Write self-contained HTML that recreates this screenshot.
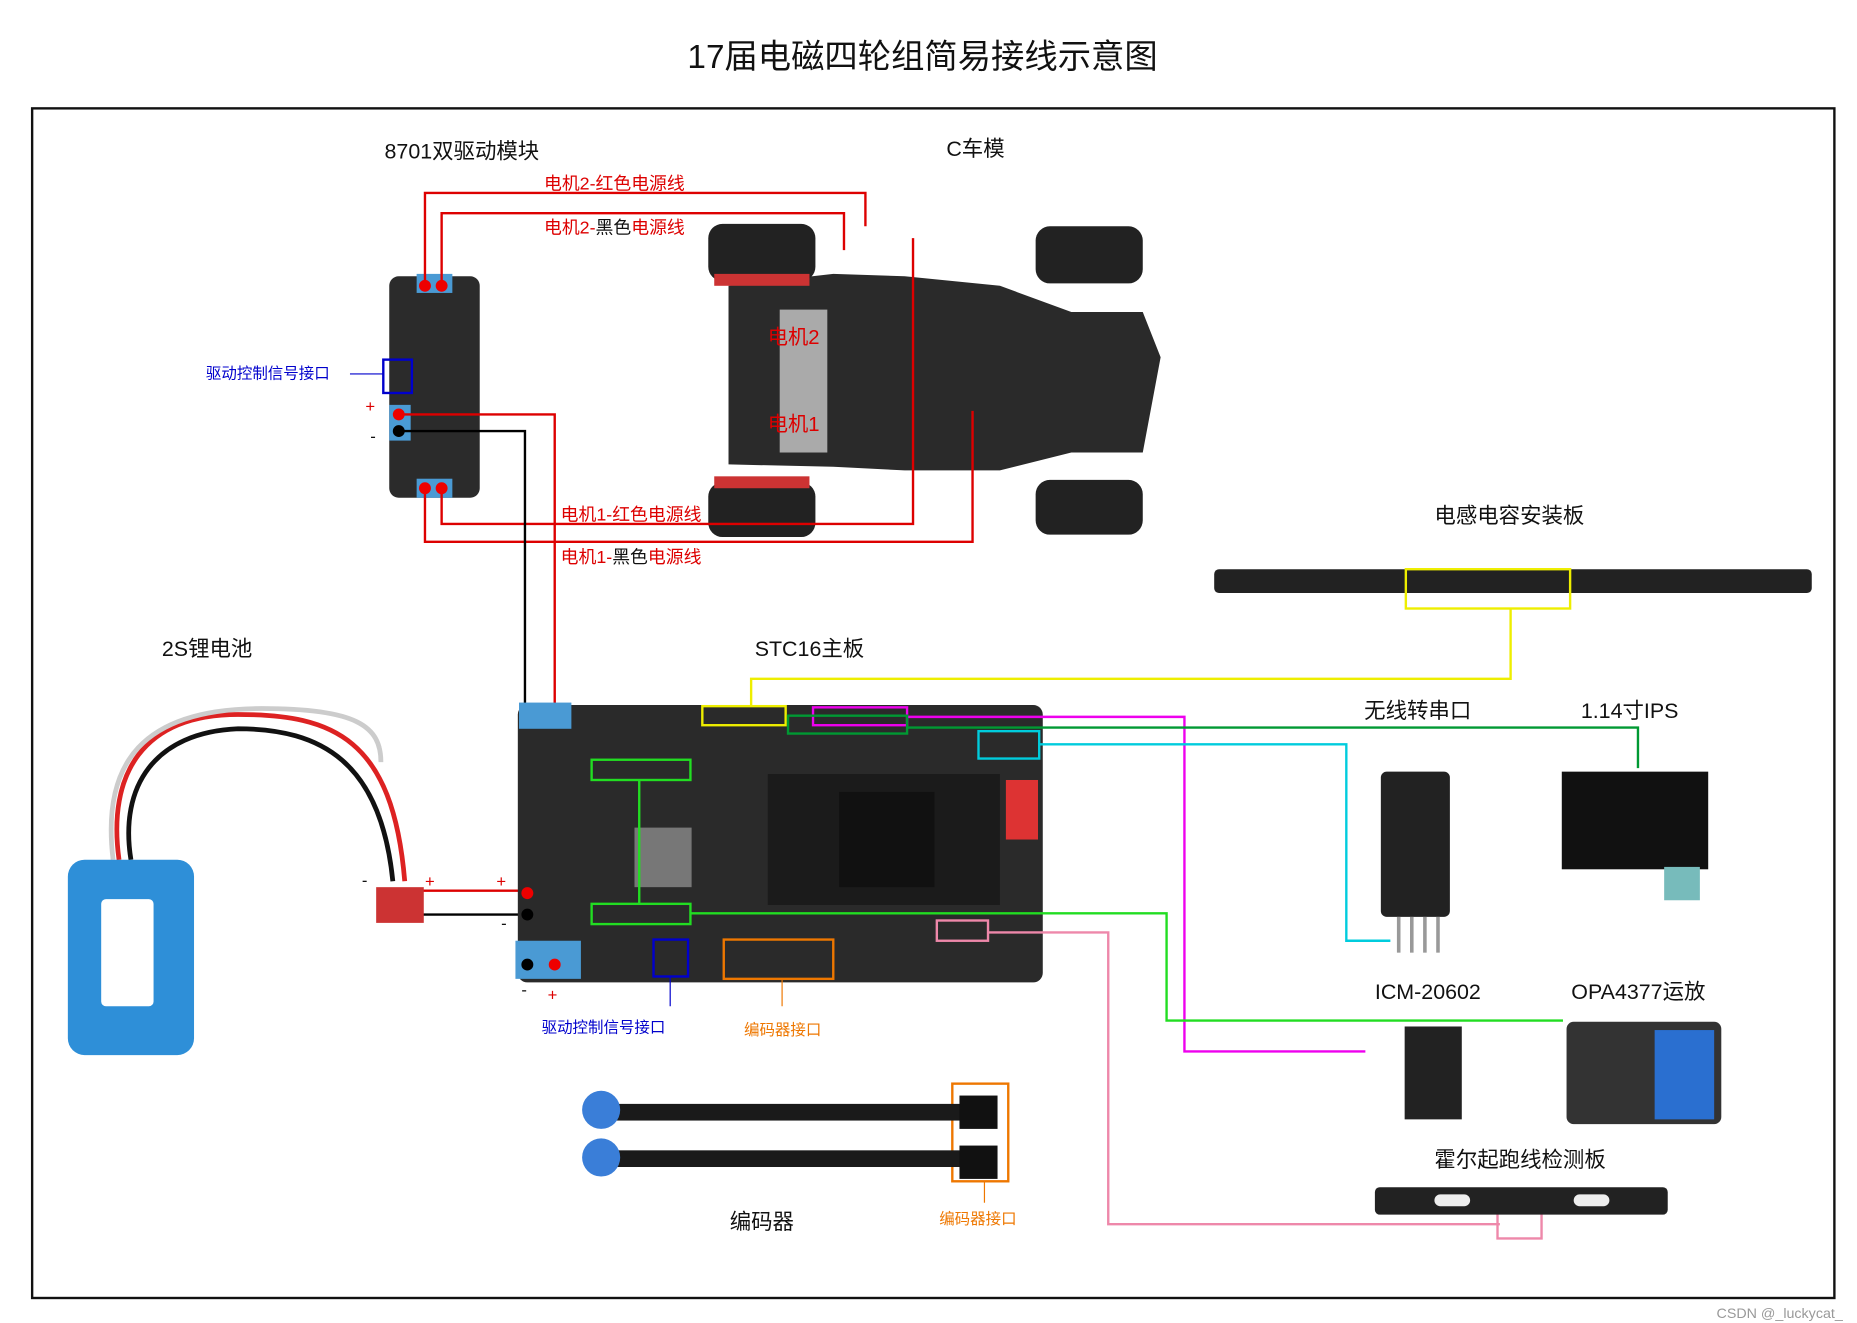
<!DOCTYPE html>
<html><head><meta charset="utf-8"><style>
html,body{margin:0;padding:0;background:#fff;width:1857px;height:1323px;overflow:hidden}
svg{display:block}
text{font-family:"Liberation Sans","Noto Sans CJK SC",sans-serif}
</style></head><body>
<svg width="1857" height="1323" viewBox="0 0 1560 1111" preserveAspectRatio="none">
<text x="775" y="57" font-size="28" text-anchor="middle" fill="#111">17届电磁四轮组简易接线示意图</text>
<rect x="27" y="91" width="1514" height="999" fill="none" stroke="#111" stroke-width="2"/>
<g font-size="18" fill="#111">
<text x="323" y="133">8701双驱动模块</text>
<text x="795" y="131">C车模</text>
<text x="136" y="551">2S锂电池</text>
<text x="634" y="551">STC16主板</text>
<text x="1205" y="439">电感电容安装板</text>
<text x="1146" y="603">无线转串口</text>
<text x="1328" y="603">1.14寸IPS</text>
<text x="1155" y="839">ICM-20602</text>
<text x="1320" y="839">OPA4377运放</text>
<text x="1205" y="980">霍尔起跑线检测板</text>
<text x="613" y="1032">编码器</text>
</g>
<!-- car -->
<path d="M612,240 L700,230 L760,232 L840,240 L900,262 L960,262 L975,300 L960,380 L900,380 L840,395 L760,395 L700,392 L612,390 Z" fill="#2a2a2a"/>
<rect x="595" y="188" width="90" height="48" rx="12" fill="#222"/>
<rect x="595" y="405" width="90" height="46" rx="12" fill="#222"/>
<rect x="870" y="190" width="90" height="48" rx="12" fill="#222"/>
<rect x="870" y="403" width="90" height="46" rx="12" fill="#222"/>
<rect x="600" y="230" width="80" height="10" fill="#c33"/>
<rect x="600" y="400" width="80" height="10" fill="#c33"/>
<rect x="655" y="260" width="40" height="120" fill="#aaa"/>
<text x="645" y="289" font-size="17" fill="#d00">电机2</text>
<text x="645" y="362" font-size="17" fill="#d00">电机1</text>
<!-- driver board -->
<rect x="327" y="232" width="76" height="186" rx="8" fill="#2b2b2b"/>
<rect x="350" y="230" width="30" height="16" fill="#4a9ad4"/>
<rect x="350" y="402" width="30" height="16" fill="#4a9ad4"/>
<rect x="327" y="340" width="18" height="30" fill="#4a9ad4"/>
<rect x="322" y="302" width="24" height="28" fill="none" stroke="#00c" stroke-width="2"/>
<text x="173" y="318" font-size="13" fill="#00c">驱动控制信号接口</text>
<line x1="294" y1="314" x2="322" y2="314" stroke="#00c" stroke-width="1"/>
<text x="307" y="346" font-size="14" fill="#d00">+</text>
<text x="311" y="371" font-size="14" fill="#111">-</text>
<!-- red motor lines -->
<g fill="none" stroke="#d00" stroke-width="2">
<polyline points="357,240 357,162 727,162 727,190"/>
<polyline points="371,240 371,179 709,179 709,210"/>
<polyline points="357,410 357,455 817,455 817,345"/>
<polyline points="371,410 371,440 767,440 767,200"/>
<polyline points="335,348 466,348 466,810"/>
<line x1="350" y1="748" x2="440" y2="748"/>
</g>
<g fill="none" stroke="#000" stroke-width="2">
<polyline points="335,362 441,362 441,810"/>
<line x1="322" y1="768" x2="440" y2="768"/>
</g>
<circle cx="357" cy="240" r="5" fill="#e00"/><circle cx="371" cy="240" r="5" fill="#e00"/>
<circle cx="357" cy="410" r="5" fill="#e00"/><circle cx="371" cy="410" r="5" fill="#e00"/>
<circle cx="335" cy="348" r="5" fill="#e00"/><circle cx="335" cy="362" r="5" fill="#000"/>
<text x="457" y="159" font-size="15" fill="#d00">电机2-红色电源线</text>
<text x="457" y="196" font-size="15" fill="#d00">电机2-<tspan fill="#111">黑色</tspan>电源线</text>
<text x="471" y="437" font-size="15" fill="#d00">电机1-红色电源线</text>
<text x="471" y="473" font-size="15" fill="#d00">电机1-<tspan fill="#111">黑色</tspan>电源线</text>
<!-- battery -->
<path d="M100,722 C90,650 120,600 200,600 C280,600 330,620 340,740" fill="none" stroke="#d22" stroke-width="4"/>
<path d="M110,722 C100,660 130,615 200,612 C270,612 320,640 330,740" fill="none" stroke="#111" stroke-width="4"/>
<path d="M95,722 C85,640 120,595 220,595 C300,595 320,610 320,640" fill="none" stroke="#ccc" stroke-width="4"/>
<rect x="57" y="722" width="106" height="164" rx="14" fill="#2e8fd8"/>
<rect x="85" y="755" width="44" height="90" rx="4" fill="#fff"/>
<rect x="316" y="745" width="40" height="30" fill="#c33"/>
<text x="304" y="744" font-size="14" fill="#111">-</text>
<text x="357" y="745" font-size="14" fill="#d00">+</text>
<text x="417" y="745" font-size="14" fill="#d00">+</text>
<text x="421" y="780" font-size="14" fill="#111">-</text>
<!-- STC board -->
<rect x="435" y="592" width="441" height="233" rx="8" fill="#2a2a2a"/>
<rect x="645" y="650" width="195" height="110" fill="#1b1b1b"/>
<rect x="705" y="665" width="80" height="80" fill="#111"/>
<rect x="533" y="695" width="48" height="50" fill="#777"/>
<rect x="433" y="790" width="55" height="32" fill="#4a9ad4"/>
<rect x="436" y="590" width="44" height="22" fill="#4a9ad4"/>
<rect x="845" y="655" width="27" height="50" fill="#d33"/>
<circle cx="443" cy="810" r="5" fill="#000"/><circle cx="466" cy="810" r="5" fill="#e00"/>
<circle cx="443" cy="750" r="5" fill="#e00"/><circle cx="443" cy="768" r="5" fill="#000"/>
<text x="438" y="836" font-size="14" fill="#111">-</text>
<text x="460" y="840" font-size="14" fill="#d00">+</text>
<!-- sensor bar -->
<rect x="1020" y="478" width="502" height="20" rx="4" fill="#222"/>
<!-- colored connections -->
<g fill="none" stroke-width="2">
<rect x="1181" y="478" width="138" height="33" stroke="#ee0"/>
<rect x="590" y="593" width="70" height="16" stroke="#ee0"/>
<polyline points="631,593 631,570 1269,570 1269,511" stroke="#ee0"/>
<rect x="683" y="594" width="79" height="15" stroke="#e0e"/>
<polyline points="762,602 995,602 995,883 1147,883" stroke="#e0e"/>
<rect x="662" y="601" width="100" height="15" stroke="#093"/>
<polyline points="762,611 1376,611 1376,645" stroke="#093"/>
<rect x="822" y="614" width="51" height="23" stroke="#0cd"/>
<polyline points="873,625 1131,625 1131,790 1168,790" stroke="#0cd"/>
<rect x="497" y="638" width="83" height="17" stroke="#2d2"/>
<rect x="497" y="759" width="83" height="17" stroke="#2d2"/>
<line x1="537" y1="655" x2="537" y2="759" stroke="#2d2"/>
<polyline points="580,767 980,767 980,857 1313,857" stroke="#2d2"/>
<rect x="787" y="773" width="43" height="17" stroke="#e8a"/>
<polyline points="830,783 931,783 931,1028 1260,1028" stroke="#e8a"/>
<rect x="1258" y="1013" width="37" height="27" stroke="#e8a"/>
<rect x="549" y="789" width="29" height="31" stroke="#00c"/>
<line x1="563" y1="820" x2="563" y2="845" stroke="#00c" stroke-width="1"/>
<rect x="608" y="789" width="92" height="33" stroke="#e70"/>
<line x1="657" y1="822" x2="657" y2="845" stroke="#e70" stroke-width="1"/>
<rect x="800" y="910" width="47" height="82" stroke="#e70"/>
<line x1="827" y1="992" x2="827" y2="1010" stroke="#e70" stroke-width="1"/>
</g>
<text x="455" y="867" font-size="13" fill="#00c">驱动控制信号接口</text>
<text x="625" y="869" font-size="13" fill="#e70">编码器接口</text>
<text x="789" y="1028" font-size="13" fill="#e70">编码器接口</text>
<!-- encoders -->
<rect x="505" y="927" width="330" height="14" fill="#1a1a1a"/>
<rect x="505" y="966" width="330" height="14" fill="#1a1a1a"/>
<circle cx="505" cy="932" r="16" fill="#3a7ed8"/>
<circle cx="505" cy="972" r="16" fill="#3a7ed8"/>
<rect x="806" y="920" width="32" height="28" fill="#111"/>
<rect x="806" y="962" width="32" height="28" fill="#111"/>
<!-- modules -->
<rect x="1160" y="648" width="58" height="122" rx="5" fill="#222"/>
<g stroke="#999" stroke-width="3"><line x1="1175" y1="770" x2="1175" y2="800"/><line x1="1186" y1="770" x2="1186" y2="800"/><line x1="1197" y1="770" x2="1197" y2="800"/><line x1="1208" y1="770" x2="1208" y2="800"/></g>
<rect x="1312" y="648" width="123" height="82" fill="#111"/>
<rect x="1398" y="728" width="30" height="28" fill="#7bb"/>
<rect x="1180" y="862" width="48" height="78" fill="#222"/>
<rect x="1316" y="858" width="130" height="86" rx="6" fill="#333"/>
<rect x="1390" y="865" width="50" height="75" fill="#2a6fd0"/>
<rect x="1155" y="997" width="246" height="23" rx="4" fill="#222"/>
<rect x="1205" y="1003" width="30" height="10" rx="5" fill="#eee"/>
<rect x="1322" y="1003" width="30" height="10" rx="5" fill="#eee"/>
<text x="1442" y="1107" font-size="12" fill="#999">CSDN @_luckycat_</text>
</svg>
</body></html>
